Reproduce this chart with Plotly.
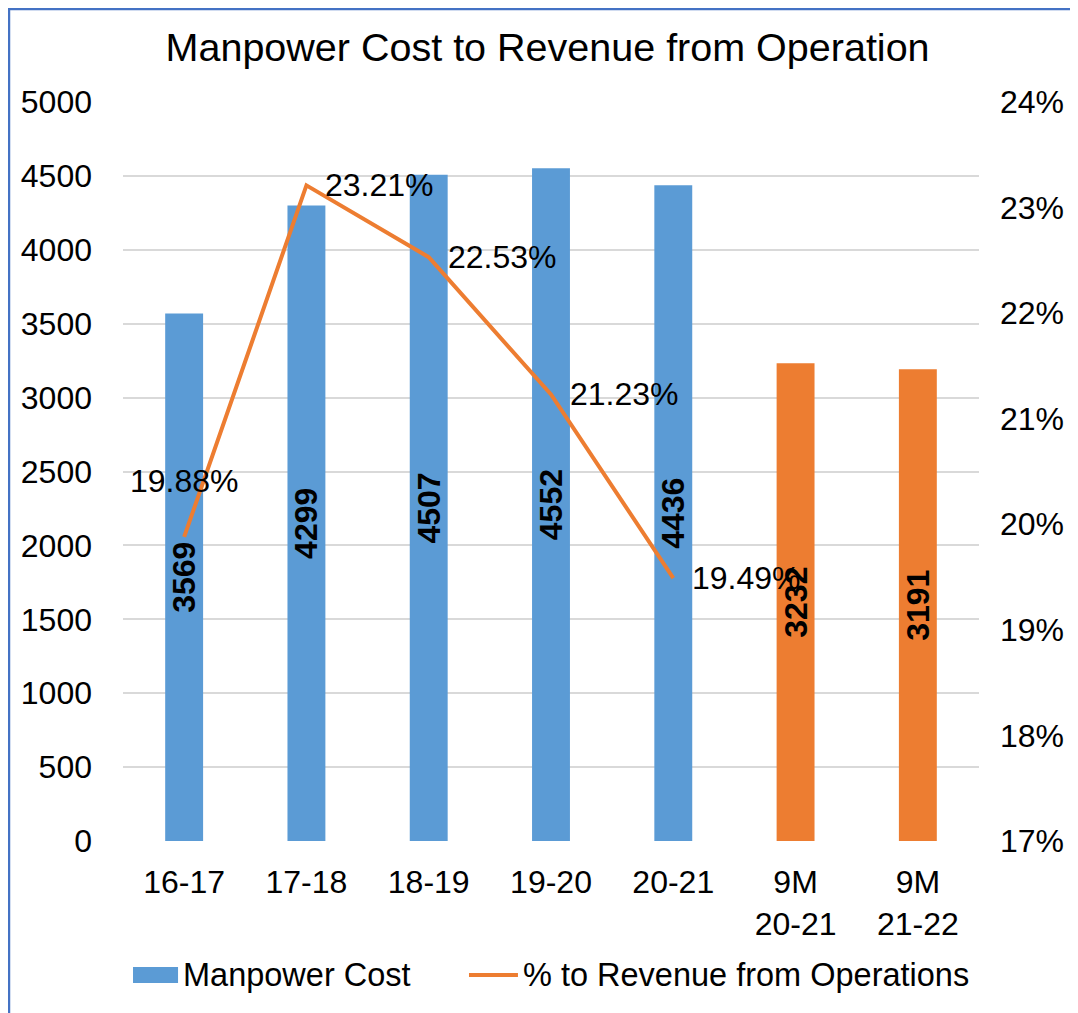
import plotly.graph_objects as go

# data
periods = ["16-17", "17-18", "18-19", "19-20", "20-21", "9M<br>20-21", "9M<br>21-22"]
manpower_cost = [3569, 4299, 4507, 4552, 4436, 3232, 3191]
pct_revenue = [19.88, 23.21, 22.53, 21.23, 19.49]
series_names = ["Manpower Cost", "% to Revenue from Operations"]

BLUE = "#5B9BD5"
ORANGE = "#ED7D31"
FONT = "Arial, Liberation Sans, sans-serif"

bar_colors = [BLUE] * 5 + [ORANGE] * 2

fig = go.Figure()

fig.add_bar(
    x=periods,
    y=manpower_cost,
    name=series_names[0],
    marker=dict(color=bar_colors, line=dict(width=0)),
    width=0.31,
    text=[str(v) for v in manpower_cost],
    textposition="inside",
    insidetextanchor="middle",
    textangle=-90,
    constraintext="none",
    textfont=dict(family=FONT, size=32, color="black", weight="bold"),
    showlegend=False,
)

fig.add_scatter(
    x=periods[: len(pct_revenue)],
    y=pct_revenue,
    yaxis="y2",
    mode="lines",
    name=series_names[1],
    line=dict(color=ORANGE, width=4),
    showlegend=False,
)

# point labels for the line
for i, (cat, v) in enumerate(zip(periods, pct_revenue)):
    if i == 0:
        pos = dict(xanchor="center", yanchor="middle", yshift=56)
    else:
        pos = dict(xanchor="left", yanchor="middle", xshift=17)
    fig.add_annotation(
        x=cat, y=v, xref="x", yref="y2",
        text=f"{v:.2f}%", showarrow=False,
        font=dict(family=FONT, size=32, color="black"),
        **pos,
    )

# legend drawn by hand (wide swatch like the original)
fig.add_shape(type="rect", xref="paper", yref="paper",
              x0=0.0117, x1=0.0643, y0=-0.1922, y1=-0.1705,
              fillcolor=BLUE, line=dict(width=0))
fig.add_annotation(x=0.068, y=-0.1813, xref="paper", yref="paper",
                   text=series_names[0], showarrow=False,
                   xanchor="left", yanchor="middle",
                   font=dict(family=FONT, size=32.5, color="black"))
fig.add_shape(type="line", xref="paper", yref="paper",
              x0=0.4042, x1=0.4614, y0=-0.1813, y1=-0.1813,
              line=dict(color=ORANGE, width=4))
fig.add_annotation(x=0.4645, y=-0.1813, xref="paper", yref="paper",
                   text=series_names[1], showarrow=False,
                   xanchor="left", yanchor="middle",
                   font=dict(family=FONT, size=32.5, color="black"))

# chart frame (blue border, cut off at right/bottom)
fig.add_shape(
    type="rect", xref="paper", yref="paper",
    x0=-0.1332, x1=1.3, y0=-0.4, y1=1.1259,
    line=dict(color="#4472C4", width=2.5),
)

fig.update_layout(
    width=1070,
    height=1005,
    margin=dict(l=115, r=99, t=94, b=172),
    paper_bgcolor="white",
    plot_bgcolor="white",
    font=dict(family=FONT, size=32, color="black"),
    title=dict(
        text="Manpower Cost to Revenue from Operation",
        x=0.496, xref="paper", xanchor="center",
        y=1 - 39 / 1005, yanchor="middle",
        font=dict(size=39.5, color="black"),
    ),
    showlegend=False,
    xaxis=dict(
        type="category",
        showgrid=False,
        showline=False,
        ticks="",
        ticklabelstandoff=19,
        tickfont=dict(size=32),
    ),
    yaxis=dict(
        range=[0, 5000],
        dtick=500,
        showgrid=True,
        gridcolor="#D9D9D9",
        gridwidth=1.5,
        zeroline=False,
        ticks="",
        ticklabelstandoff=30,
        tickfont=dict(size=32),
    ),
    yaxis2=dict(
        overlaying="y",
        side="right",
        range=[17, 24],
        dtick=1,
        ticksuffix="%",
        showgrid=False,
        zeroline=False,
        ticks="",
        ticklabelstandoff=20,
        tickfont=dict(size=32),
    ),
)

fig.write_html("out.html")
